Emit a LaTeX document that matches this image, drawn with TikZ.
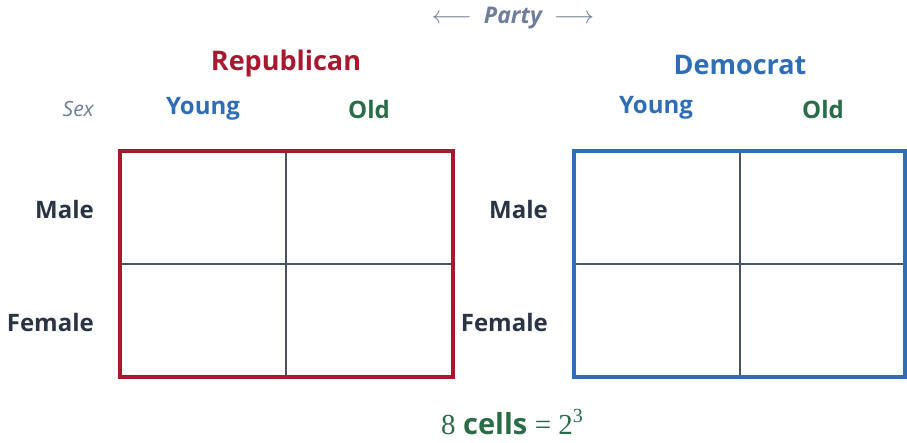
\documentclass[tikz,border=0pt]{standalone}
\usepackage{fontspec}
\setmainfont{Open Sans}
\newfontfamily\numfont{Liberation Serif}
\definecolor{rep}{HTML}{A6192E}
\definecolor{dem}{HTML}{2F6DB5}
\definecolor{oldg}{HTML}{2A6B48}
\definecolor{ink}{HTML}{2B3445}
\definecolor{muted}{HTML}{6F7E99}
\definecolor{grid}{HTML}{4A5366}
\begin{document}
\begin{tikzpicture}[x=1pt,y=-1pt,
  lab/.style={font=\bfseries\fontsize{24}{26}\selectfont, inner sep=0pt},
  party/.style={font=\bfseries\fontsize{27}{29}\selectfont, inner sep=0pt},
  rowlab/.style={lab, text=ink, anchor=east},
  outer/.style={line width=3.5pt},
  inner/.style={line width=1.8pt, draw=grid}]
\useasboundingbox (0,0) rectangle (907,442);
% title
\node[inner sep=0pt, text=muted, font=\bfseries\itshape\fontsize{23}{25}\selectfont] (party) at (513,18) {$\longleftarrow$\ \ Party\ \ $\longrightarrow$};
% Republican table
\node[party, text=rep] (rep) at (286,63) {Republican};
\node[lab, text=dem] (ry) at (203,109) {Young};
\node[lab, text=oldg] (ro) at (369,109) {Old};
\node[inner sep=0pt, anchor=east, text=muted, font=\itshape\fontsize{21}{23}\selectfont] (sex) at (94,109) {Sex};
\node[rowlab] (rm) at (94,209) {Male};
\node[rowlab] (rf) at (94,322) {Female};
\coordinate (rtl) at (120,151);
\coordinate (rbr) at (453,377);
\coordinate (rtm) at (286,151);
\coordinate (rbm) at (286,377);
\coordinate (rml) at (120,264);
\coordinate (rmr) at (453,264);
\draw[inner] (rtm) -- (rbm);
\draw[inner] (rml) -- (rmr);
\draw[outer, draw=rep] (rtl) rectangle (rbr);
% Democrat table
\node[party, text=dem] (dem) at (740,65) {Democrat};
\node[lab, text=dem] (dy) at (656,108) {Young};
\node[lab, text=oldg] (do) at (823,109) {Old};
\node[rowlab] (dm) at (548,209) {Male};
\node[rowlab] (df) at (548,322) {Female};
\coordinate (dtl) at (574,151);
\coordinate (dbr) at (905,377);
\coordinate (dtm) at (740,151);
\coordinate (dbm) at (740,377);
\coordinate (dml) at (574,264);
\coordinate (dmr) at (905,264);
\draw[inner] (dtm) -- (dbm);
\draw[inner] (dml) -- (dmr);
\draw[outer, draw=dem] (dtl) rectangle (dbr);
% footer
\node[inner sep=0pt, text=oldg, font=\fontsize{29}{31}\selectfont] (foot) at (512,422) {{\numfont 8} \textbf{cells} {\numfont = 2\raisebox{0.42em}{\fontsize{20}{21}\selectfont 3}}};
\end{tikzpicture}
\end{document}
